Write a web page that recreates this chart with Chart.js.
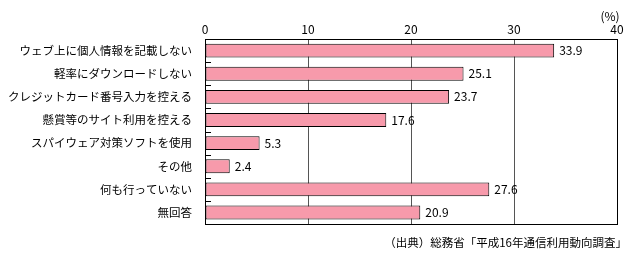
<!DOCTYPE html>
<html>
<head>
<meta charset="utf-8">
<script src="https://cdn.jsdelivr.net/npm/chart.js@4"></script>
<style>
  body { margin: 0; background: #fff; }
  #wrap { width: 637px; height: 257px; position: relative; }
</style>
</head>
<body>
<div id="wrap"><canvas id="c" width="637" height="257"></canvas></div>
<script>
const categories = [
  "ウェブ上に個人情報を記載しない",
  "軽率にダウンロードしない",
  "クレジットカード番号入力を控える",
  "懸賞等のサイト利用を控える",
  "スパイウェア対策ソフトを使用",
  "その他",
  "何も行っていない",
  "無回答",
];
const values = [33.9, 25.1, 23.7, 17.6, 5.3, 2.4, 27.6, 20.9];
const xTicks = [0, 10, 20, 30, 40];
const unitLabel = "(%)";
const sourceNote = "（出典）総務省「平成16年通信利用動向調査」";

const FONT = "'Noto Sans CJK JP', 'DejaVu Sans', sans-serif";

// frame, inner ticks, value labels, unit and source text
const decorations = {
  id: "decorations",
  afterDatasetsDraw(chart) {
    const { ctx, chartArea: a } = chart;
    const yScale = chart.scales.y;
    ctx.save();
    ctx.strokeStyle = "#000";
    ctx.lineWidth = 1;
    ctx.strokeRect(Math.round(a.left) + 0.5, Math.round(a.top) + 0.5,
      Math.round(a.right - a.left), Math.round(a.bottom - a.top));
    // small ticks between categories on the left axis
    for (let i = 0; i < categories.length - 1; i++) {
      const yy = Math.round((yScale.getPixelForValue(i) + yScale.getPixelForValue(i + 1)) / 2) + 0.5;
      ctx.beginPath();
      ctx.moveTo(a.left, yy);
      ctx.lineTo(a.left + 6, yy);
      ctx.stroke();
    }
    // value labels
    ctx.fillStyle = "#000";
    ctx.font = "12px " + FONT;
    ctx.textBaseline = "middle";
    ctx.textAlign = "left";
    chart.getDatasetMeta(0).data.forEach((bar, i) => {
      ctx.fillText(values[i].toFixed(1), bar.x + 5, bar.y);
    });
    ctx.textAlign = "center";
    ctx.fillText(unitLabel, chart.scales.x.getPixelForValue(40) - 7, 16);
    ctx.textAlign = "right";
    ctx.font = "11.5px " + FONT;
    ctx.fillText(sourceNote, 627, 243);
    ctx.restore();
  },
};

new Chart(document.getElementById("c"), {
  type: "bar",
  data: {
    labels: categories,
    datasets: [{
      data: values,
      backgroundColor: "#F79AAB",
      borderColor: "#000",
      borderWidth: 1,
      borderSkipped: false,
      categoryPercentage: 1,
      barPercentage: 0.6,
    }],
  },
  options: {
    indexAxis: "y",
    responsive: false,
    animation: false,
    layout: { padding: { left: 0, right: 20, top: 0, bottom: 33 } },
    plugins: { legend: { display: false }, tooltip: { enabled: false } },
    scales: {
      x: {
        position: "top",
        min: 0,
        max: 40,
        afterBuildTicks: (s) => { s.ticks = xTicks.map((v) => ({ value: v })); },
        afterFit: (s) => { s.height = 39; },
        ticks: { color: "#000", font: { family: FONT, size: 12 }, padding: 2, maxRotation: 0 },
        grid: {
          color: (c) => (c.tick && (c.tick.value === 0 || c.tick.value === 40) ? "rgba(0,0,0,0)" : "#555"),
          drawTicks: false,
        },
        border: { display: false },
      },
      y: {
        afterFit: (s) => { s.width = 205; },
        ticks: { color: "#000", font: { family: FONT, size: 11.5 }, padding: 5 },
        grid: { display: false },
        border: { display: false },
      },
    },
  },
  plugins: [decorations],
});
</script>
</body>
</html>
